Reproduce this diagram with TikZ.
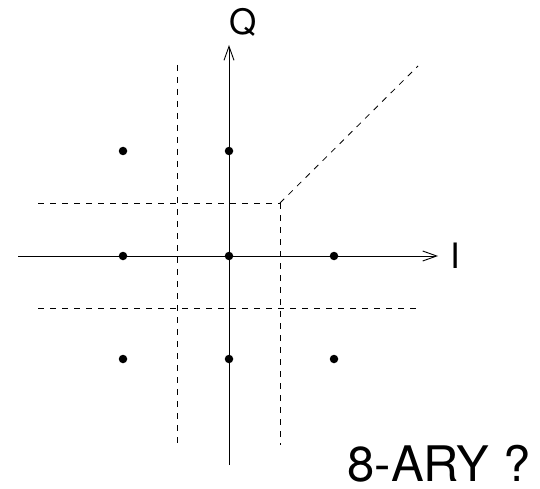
\documentclass[tikz,border=0pt]{standalone}
\usepackage{fontspec}
\setmainfont{TeX Gyre Heros}
\usetikzlibrary{arrows.meta}

\begin{document}
\begin{tikzpicture}[x=1pt,y=-1pt,
    axis/.style={-{Straight Barb[length=14pt,width=10pt]},line width=0.9pt},
    bound/.style={dash pattern=on 6pt off 6pt,line width=0.8pt},
    symbol/.style={circle,fill=black,inner sep=0pt,minimum size=8.5pt},
    axlabel/.style={font=\fontsize{35}{40}\selectfont}
]
\useasboundingbox (0,0) rectangle (540,489);

% Axes
\coordinate (i-start) at (18,256);
\coordinate (i-end) at (438,256);
\coordinate (q-start) at (229,465);
\coordinate (q-end) at (229,45);
\draw[axis] (i-start) -- (i-end);
\draw[axis] (q-start) -- (q-end);
\node[axlabel] (i-label) at (455,256) {I};
\node[axlabel] (q-label) at (243,22) {Q};

% Decision boundaries
\coordinate (corner) at (280,203);
\coordinate (v1-top) at (177,65);
\coordinate (v1-bot) at (177,445);
\coordinate (v2-bot) at (280,445);
\coordinate (h1-left) at (38,203);
\coordinate (h2-left) at (38,308);
\coordinate (h2-right) at (418,308);
\coordinate (diag-end) at (418,66);
\draw[bound] (v1-top) -- (v1-bot);
\draw[bound] (corner) -- (v2-bot);
\draw[bound] (h1-left) -- (corner);
\draw[bound] (h2-left) -- (h2-right);
\draw[bound] (corner) -- (diag-end);

% Constellation points
\node[symbol] (s1) at (123,151) {};
\node[symbol] (s2) at (229,151) {};
\node[symbol] (s3) at (123,256) {};
\node[symbol] (s4) at (229,256) {};
\node[symbol] (s5) at (334,256) {};
\node[symbol] (s6) at (123,359) {};
\node[symbol] (s7) at (229,359) {};
\node[symbol] (s8) at (334,359) {};

% Caption
\node[font=\fontsize{49}{56}\selectfont,inner sep=0pt] (caption) at (439,464) {8-ARY ?};

\end{tikzpicture}
\end{document}
